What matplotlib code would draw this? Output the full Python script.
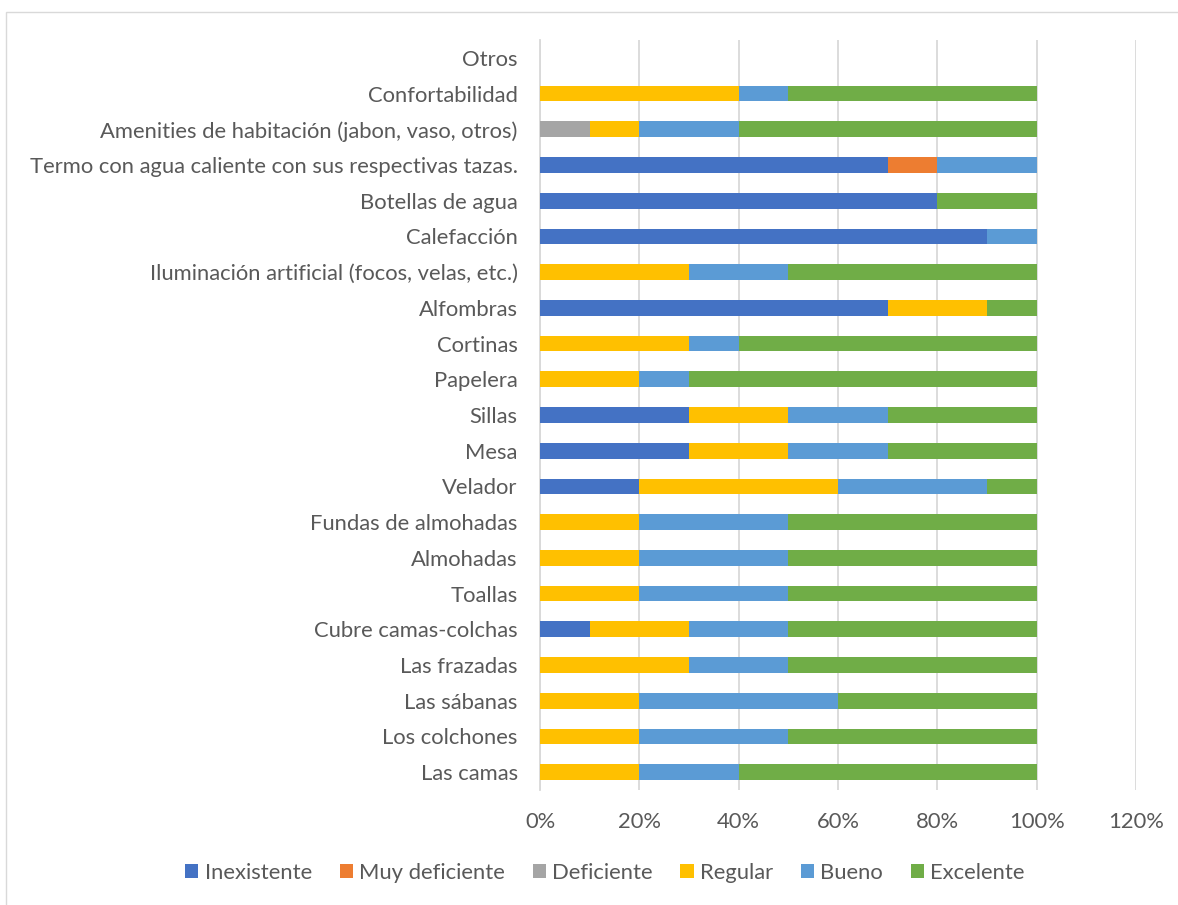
import matplotlib.pyplot as plt
import numpy as np
from matplotlib.patches import Rectangle

# categories from bottom to top
categorias = ["Las camas", "Los colchones", "Las sábanas", "Las frazadas",
              "Cubre camas-colchas", "Toallas", "Almohadas", "Fundas de almohadas",
              "Velador", "Mesa", "Sillas", "Papelera", "Cortinas", "Alfombras",
              "Iluminación artificial (focos, velas, etc.)", "Calefacción",
              "Botellas de agua", "Termo con agua caliente con sus respectivas tazas.",
              "Amenities de habitación (jabon, vaso, otros)", "Confortabilidad", "Otros"]

inexistente    = [0, 0, 0, 0, 10, 0, 0, 0, 20, 30, 30, 0, 0, 70, 0, 90, 80, 70, 0, 0, 0]
muy_deficiente = [0, 0, 0, 0, 0, 0, 0, 0, 0, 0, 0, 0, 0, 0, 0, 0, 0, 10, 0, 0, 0]
deficiente     = [0, 0, 0, 0, 0, 0, 0, 0, 0, 0, 0, 0, 0, 0, 0, 0, 0, 0, 10, 0, 0]
regular        = [20, 20, 20, 30, 20, 20, 20, 20, 40, 20, 20, 20, 30, 20, 30, 0, 0, 0, 10, 40, 0]
bueno          = [20, 30, 40, 20, 20, 30, 30, 30, 30, 20, 20, 10, 10, 0, 20, 10, 0, 20, 20, 10, 0]
excelente      = [60, 50, 40, 50, 50, 50, 50, 50, 10, 30, 30, 70, 60, 10, 50, 0, 20, 0, 60, 50, 0]

series = [("Inexistente", inexistente, "#4472C4"),
          ("Muy deficiente", muy_deficiente, "#ED7D31"),
          ("Deficiente", deficiente, "#A5A5A5"),
          ("Regular", regular, "#FFC000"),
          ("Bueno", bueno, "#5B9BD5"),
          ("Excelente", excelente, "#70AD47")]

plt.rcParams['font.family'] = ['Lato', 'DejaVu Sans']
txt = "#595959"
fs = 15.8

fig = plt.figure(figsize=(11.78, 9.05), dpi=100)
ax = fig.add_axes([540/1178, 1-790/905, 596/1178, 750/905])

y = np.arange(len(categorias))
left = np.zeros(len(categorias))
for nombre, vals, color in series:
    v = np.array(vals) / 100
    ax.barh(y, v, left=left, height=0.44, color=color, label=nombre, zorder=3)
    left += v

ax.set_xlim(0, 1.2)
ax.set_ylim(-0.5, len(categorias) - 0.5)
ax.set_xticks(np.arange(0, 1.21, 0.2))
ax.set_xticklabels([f"{int(round(t*100))}%" for t in np.arange(0, 1.21, 0.2)])
ax.set_yticks(y)
ax.set_yticklabels(categorias)
ax.tick_params(length=0, colors=txt, labelsize=fs)
ax.tick_params(axis='x', pad=16)
ax.tick_params(axis='y', pad=16)
ax.grid(axis='x', color="#D9D9D9", linewidth=1.3, zorder=0)
for s in ["top", "right", "bottom"]:
    ax.spines[s].set_visible(False)
ax.spines["left"].set_color("#D9D9D9")
ax.spines["left"].set_linewidth(1.3)

fig.legend(loc="center", bbox_to_anchor=(605/1178, 1-873/905), ncol=6, frameon=False,
           fontsize=fs, labelcolor=txt, handlelength=0.6, handleheight=0.6,
           handletextpad=0.3, columnspacing=1.25)

# chart area border
fig.patches.append(Rectangle((6/1178, -0.1), 1.2, 1 - 12/905 + 0.1, transform=fig.transFigure,
                             fill=False, edgecolor="#D9D9D9", linewidth=1))

fig.savefig("out.png", dpi=100)
